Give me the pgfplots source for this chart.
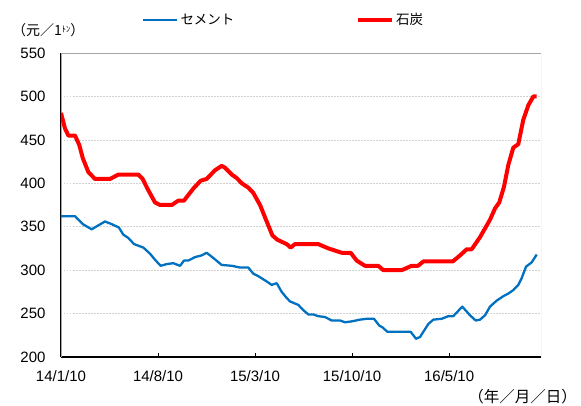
\documentclass[border=0pt]{standalone}
\usepackage{fontspec}
\setmainfont{Liberation Sans}
\newfontfamily\jp{Noto Sans CJK JP}
\usepackage{pgfplots}
\pgfplotsset{compat=1.18}
\definecolor{cblue}{RGB}{0,112,192}
\definecolor{cred}{RGB}{255,0,0}
\begin{document}
\begin{tikzpicture}
\useasboundingbox (-61pt,-49pt) rectangle (520pt,357pt);
\begin{axis}[
  at={(0pt,0pt)}, anchor=south west, scale only axis,
  width=480pt, height=304pt,
  xmin=0, xmax=34.63, ymin=200, ymax=550,
  ytick={200,250,...,550},
  xtick={0,7,14,21,28},
  xticklabels={14/1/10,14/8/10,15/3/10,15/10/10,16/5/10},
  axis x line*=bottom, axis y line*=left,
  axis line style={black, line width=1.6pt},
  tick align=inside,
  major tick length=4pt,
  xtick style={black, line width=0.8pt},
  ytick style={draw=none},
  ymajorgrids,
  grid style={gray!35, dash pattern=on 1.5pt off 1.5pt, line width=0.6pt},
  /pgf/number format/assume math mode=true,
  ticklabel style={font=\fontsize{15}{18}\selectfont},
  yticklabel style={anchor=east, xshift=-12pt},
  xticklabel style={yshift=-10pt},
  legend columns=2,
  legend style={draw=none, fill=none, at={(0.1688,1.1086)}, anchor=west,
    inner sep=0pt, font=\jp\fontsize{13.5}{16}\selectfont,
    /tikz/every even column/.append style={column sep=120pt},
    nodes={inner sep=2pt}},
  legend image code/.code={\draw[#1] (0pt,0pt) -- (34pt,0pt);},
  line join=round,
]
\draw[gray!70, line width=0.8pt] (rel axis cs:0,0) -- (rel axis cs:0,1) -- (rel axis cs:1,1) -- (rel axis cs:1,0);
\addplot[cblue, line width=2.3pt, no markers] coordinates {
(0,362) (1.01,362) (1.57,353) (2.21,347) (3.17,356) (3.66,353) (4.18,349) (4.49,341) (4.86,337) (5.27,330) (5.94,326) (6.42,319) (6.78,312) (7.19,305) (7.63,307) (8.10,308) (8.59,305) (8.87,311) (9.18,311) (9.67,315) (10.15,317) (10.51,320) (10.99,314) (11.59,306) (12.32,305) (12.92,303) (13.51,303) (13.87,296) (14.24,293) (14.84,287) (15.20,283) (15.56,285) (15.92,275) (16.28,268) (16.52,264) (17.12,260) (17.48,254) (17.84,249) (18.20,249) (18.56,247) (19.05,246) (19.53,242) (20.13,242) (20.49,240) (20.97,241) (21.57,243) (22.06,244) (22.58,244) (22.97,236) (23.21,234) (23.54,229) (25.23,229) (25.61,221) (25.90,223) (26.50,238) (26.86,243) (27.47,244) (27.94,247) (28.30,247) (28.95,258) (29.51,248) (29.92,242) (30.23,243) (30.59,248) (30.95,258) (31.44,265) (31.91,270) (32.27,273) (32.63,277) (32.99,283) (33.24,291) (33.55,304) (33.96,309) (34.32,318)
};
\addlegendentry{セメント}
\addplot[cred, line width=4pt, no markers] coordinates {
(0,481) (0.29,463) (0.53,455) (1.01,455) (1.32,444) (1.57,429) (1.97,413) (2.45,405) (3.54,405) (4.13,410) (5.58,410) (5.89,405) (6.23,394) (6.78,378) (7.14,375) (7.99,375) (8.46,380) (8.87,380) (9.55,394) (10.08,403) (10.51,405) (11.11,415) (11.59,420) (11.83,418) (12.32,410) (12.68,406) (13.04,400) (13.51,395) (13.87,389) (14.36,375) (14.84,356) (15.25,340) (15.61,335) (16.28,330) (16.57,326) (16.88,330) (18.56,330) (19.29,325) (20.25,320) (20.90,320) (21.33,311) (21.93,305) (22.89,305) (23.25,300) (24.58,300) (25.30,305) (25.76,305) (26.14,310) (28.26,310) (28.79,317) (29.27,324) (29.63,324) (30.23,338) (30.95,358) (31.31,371) (31.62,378) (31.96,396) (32.27,421) (32.63,441) (32.99,445) (33.35,473) (33.72,490) (34.08,500) (34.32,500)
};
\addlegendentry{石炭}
\end{axis}
\node[anchor=west, inner sep=0pt, font=\jp\fontsize{14}{16}\selectfont] at (-49pt,327pt) {（元／1\raisebox{3pt}{\fontsize{8.5}{9}\selectfont ﾄﾝ}）};
\node[inner sep=0pt, font=\jp\fontsize{15.5}{18}\selectfont] at (461.5pt,-40pt) {（年／月／日）};
\end{tikzpicture}
\end{document}
